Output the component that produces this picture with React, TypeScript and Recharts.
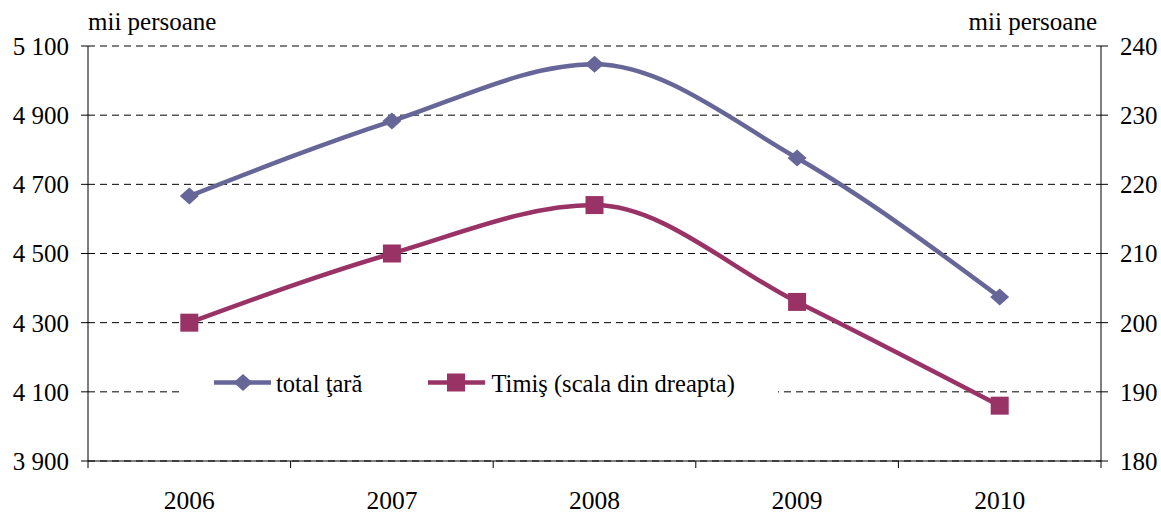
import React from "react";
import { LineChart, Line, XAxis, YAxis, CartesianGrid, Legend } from "recharts";

const years = ["2006", "2007", "2008", "2009", "2010"];
const totalTara = [4666, 4883, 5047, 4776, 4374];
const timis = [200, 210, 217, 203, 188];
const leftTicks = [3900, 4100, 4300, 4500, 4700, 4900, 5100];
const rightTicks = [180, 190, 200, 210, 220, 230, 240];

const data = years.map((year, i) => ({
  year,
  total: totalTara[i],
  timis: timis[i],
}));

const FONT = "'Liberation Serif', 'Times New Roman', serif";
const BLUE = "#666699";
const PLUM = "#993366";
const serif = { fontFamily: FONT };

const fmtThousands = (v: number) => {
  const s = String(v);
  return s.length > 3 ? s.slice(0, s.length - 3) + " " + s.slice(-3) : s;
};

const Diamond = (props: any) => {
  const { cx, cy, index } = props;
  if (cx == null || cy == null) return <g key={index} />;
  return (
    <path
      key={index}
      d={`M${cx - 9.5},${cy} L${cx},${cy - 8.5} L${cx + 9.5},${cy} L${cx},${cy + 8.5} Z`}
      fill={BLUE}
    />
  );
};

const Square = (props: any) => {
  const { cx, cy, index } = props;
  if (cx == null || cy == null) return <g key={index} />;
  return <rect key={index} x={cx - 9} y={cy - 9} width={18} height={18} fill={PLUM} />;
};

const YearTick = (props: any) => {
  const { x, y, payload, index } = props;
  const half = payload?.offset ?? 101;
  const last = index === years.length - 1;
  return (
    <g>
      <line x1={x - half} y1={y} x2={x - half} y2={y + 7} stroke="#000" />
      {last && <line x1={x + half} y1={y} x2={x + half} y2={y + 7} stroke="#000" />}
      <text x={x} y={y + 48} textAnchor="middle" fontSize={25.5} fontFamily={FONT} style={serif} fill="#000">
        {payload.value}
      </text>
    </g>
  );
};

const ValueTick = (props: any) => {
  const { x, y, payload, textAnchor, tickFormatter } = props;
  const label = tickFormatter ? tickFormatter(payload.value) : payload.value;
  return (
    <g>
      <text
        x={x}
        y={y}
        dy="0.355em"
        textAnchor={textAnchor}
        fontSize={25}
        fontFamily={FONT}
        style={serif}
        fill="#000"
      >
        {label}
      </text>
    </g>
  );
};

const UnitLabel = (props: any) => {
  const { viewBox, side } = props;
  if (!viewBox) return null;
  const x = side === "left" ? viewBox.x + viewBox.width : viewBox.x - 4;
  return (
    <text
      x={x}
      y={30}
      textAnchor={side === "left" ? "start" : "end"}
      fontSize={25}
      fontFamily={FONT}
      style={serif}
      fill="#000"
    >
      mii persoane
    </text>
  );
};

const LegendBox = () => (
  <svg width={596} height={30} style={{ display: "block", background: "#fff" }}>
    <line x1={32} y1={14.5} x2={89} y2={14.5} stroke={BLUE} strokeWidth={4.5} />
    <path d="M51.5,14.5 L61,6 L70.5,14.5 L61,23 Z" fill={BLUE} />
    <text x={94} y={24.3} fontSize={24.5} fontFamily={FONT} style={serif} fill="#000">
      total ţară
    </text>
    <line x1={246} y1={14.5} x2={303} y2={14.5} stroke={PLUM} strokeWidth={4.5} />
    <rect x={265} y={5.5} width={18} height={18} fill={PLUM} />
    <text x={309.5} y={24.3} fontSize={24.5} fontFamily={FONT} style={serif} fill="#000">
      Timiş (scala din dreapta)
    </text>
  </svg>
);

export default function App() {
  return (
    <div
      style={{
        position: "absolute",
        left: 0,
        top: 0,
        width: 1161,
        height: 514,
        background: "#fff",
        fontFamily: FONT,
      }}
    >
      <LineChart
        width={1161}
        height={514}
        data={data}
        margin={{ top: 46, right: 0, left: 0, bottom: 0 }}
        style={serif}
      >
        <CartesianGrid yAxisId="left" vertical={false} stroke="#000" strokeDasharray="7 5" />
        <XAxis
          dataKey="year"
          scale="band"
          height={53}
          stroke="#000"
          tickLine={false}
          tickSize={0}
          tickMargin={0}
          tick={<YearTick />}
          interval={0}
        />
        <YAxis
          yAxisId="left"
          width={88}
          domain={[3900, 5100]}
          ticks={leftTicks}
          tickFormatter={fmtThousands}
          stroke="#000"
          tickSize={7}
          tickMargin={12}
          tick={<ValueTick />}
          label={<UnitLabel side="left" />}
        />
        <YAxis
          yAxisId="right"
          orientation="right"
          width={60}
          domain={[180, 240]}
          ticks={rightTicks}
          stroke="#000"
          tickSize={7}
          tickMargin={12}
          tick={<ValueTick />}
          label={<UnitLabel side="right" />}
        />
        <Legend
          layout="horizontal"
          verticalAlign="middle"
          align="center"
          content={<LegendBox />}
          wrapperStyle={{ position: "absolute", left: 182, top: 368, width: 596, height: 30, margin: 0 }}
        />
        <Line
          yAxisId="left"
          type="monotone"
          dataKey="total"
          name="total ţară"
          stroke={BLUE}
          strokeWidth={4.5}
          dot={Diamond}
          activeDot={false}
          isAnimationActive={false}
        />
        <Line
          yAxisId="right"
          type="monotone"
          dataKey="timis"
          name="Timiş (scala din dreapta)"
          stroke={PLUM}
          strokeWidth={4.5}
          dot={Square}
          activeDot={false}
          isAnimationActive={false}
        />
      </LineChart>
    </div>
  );
}
